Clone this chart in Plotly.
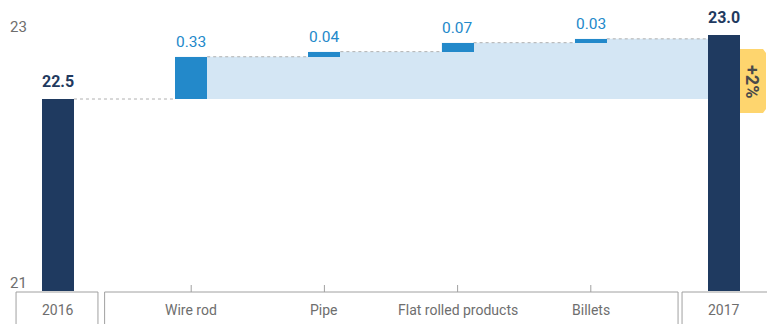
import plotly.graph_objects as go

# ---------------- data ----------------
categories = ["2016", "Wire rod", "Pipe", "Flat rolled products", "Billets", "2017"]
start_value = 22.5
deltas = [0.33, 0.04, 0.07, 0.03]
end_value = 23.0
axis_base = 21
y_ticks = [21, 23]
groups = [[0], [1, 2, 3, 4], [5]]

# ---------------- style ----------------
NAVY = "#1f3a60"
BLUE = "#2389ca"
LIGHT = "#d4e6f4"
YELLOW = "#fed56e"
TXT = "#6e6e6e"
BOX = "#a0a0a0"
DOT = "#b0b0b0"
FONT = "Roboto, sans-serif"
W = 0.24

n = len(categories)
xs = list(range(n))
levels = [start_value]
for d in deltas:
    levels.append(levels[-1] + d)

bases = [axis_base] + levels[:-1] + [axis_base]
heights = [start_value - axis_base] + deltas + [end_value - axis_base]
colors = [NAVY] + [BLUE] * len(deltas) + [NAVY]

fig = go.Figure()

# stepped shaded band (single polygon)
pts = [(1 - W / 2, start_value)]
for i in range(len(deltas)):
    xi = i + 1
    pts.append((xi - W / 2, levels[i + 1]))
    pts.append((xi + 1 - W / 2, levels[i + 1]))
pts.append((n - 1 - W / 2, start_value))
path = "M " + " L ".join(f"{x} {y}" for x, y in pts) + " Z"
fig.add_shape(type="path", xref="x", yref="y", path=path,
              fillcolor=LIGHT, line_width=0, layer="below")
# dotted connectors
for i, lv in enumerate(levels):
    fig.add_shape(type="line", xref="x", yref="y",
                  x0=i + W / 2, x1=i + 1 - W / 2, y0=lv, y1=lv,
                  line=dict(color=DOT, width=1, dash="dot"), layer="below")

fig.add_trace(go.Bar(x=xs, y=heights, base=bases, width=W,
                     marker=dict(color=colors, line=dict(width=0)),
                     hoverinfo="skip"))

# value labels
tops = [start_value] + levels[1:] + [end_value]
for i in xs:
    if i == 0 or i == n - 1:
        txt = f"<b>{tops[i]:.1f}</b>"
        col, sz, ys = NAVY, 16, 6
    else:
        txt = f"{deltas[i-1]:.2f}"
        col, sz, ys = BLUE, 15.5, 4
    fig.add_annotation(x=i, y=tops[i], xref="x", yref="y", text=txt,
                       showarrow=False, yanchor="bottom", yshift=ys,
                       font=dict(family=FONT, size=sz, color=col))

# y tick labels
for t in y_ticks:
    fig.add_annotation(x=29 / 767, xref="paper", y=t, yref="y", text=str(t),
                       showarrow=False, xanchor="right", yanchor="middle",
                       yshift=8, font=dict(family=FONT, size=15, color=TXT))

# category boxes
box_top = 1 - 292 / 324
for g in groups:
    pad_l = 0.315 if len(g) == 1 else 0.65
    pad_r = 0.30 if len(g) == 1 else 0.655
    x0 = g[0] - pad_l
    x1 = g[-1] + pad_r if g[-1] != n - 1 else g[-1] + 0.7
    fig.add_shape(type="rect", xref="x", yref="paper", x0=x0, x1=x1,
                  y0=-0.2, y1=box_top, line=dict(color=BOX, width=1),
                  fillcolor="rgba(0,0,0,0)")
    if len(g) > 1:
        for i in g:
            fig.add_shape(type="line", xref="x", yref="paper", x0=i, x1=i,
                          y0=box_top, y1=box_top + 7 / 324,
                          line=dict(color=BOX, width=1))
for i, c in enumerate(categories):
    fig.add_annotation(x=i, xref="x", y=1 - 310 / 324, yref="paper", text=c,
                       showarrow=False, yanchor="middle",
                       font=dict(family=FONT, size=14, color=TXT))

# change badge
pct = (end_value / start_value - 1) * 100
bx0, bx1 = 740 / 767, 766 / 767
by0, by1 = 1 - 113 / 324, 1 - 49 / 324
c = 3 / 767
cy = 4 / 324
fig.add_shape(type="path", xref="paper", yref="paper",
              path=(f"M {bx0} {by0} L {bx1 - c} {by0} L {bx1} {by0 + cy} "
                    f"L {bx1} {by1 - cy} L {bx1 - c} {by1} L {bx0} {by1} Z"),
              fillcolor=YELLOW, line_width=0)
fig.add_annotation(x=(bx0 + bx1) / 2, y=(by0 + by1) / 2, xref="paper", yref="paper",
                   xanchor="center", yanchor="middle",
                   text=f"<b>+{pct:.0f}%</b>", textangle=90, showarrow=False,
                   font=dict(family=FONT, size=18, color="#4a4a4a"))

px_per_unit = 128
fig.update_layout(
    width=767, height=324,
    margin=dict(l=0, r=0, t=0, b=0),
    paper_bgcolor="white", plot_bgcolor="white",
    showlegend=False, hovermode=False,
    xaxis=dict(range=[-58 / 133.2, (767 - 58) / 133.2], visible=False, fixedrange=True),
    yaxis=dict(range=[start_value - 225 / px_per_unit, start_value + 99 / px_per_unit],
               visible=False, fixedrange=True),
    bargap=0,
)
fig.write_html("out.html")
